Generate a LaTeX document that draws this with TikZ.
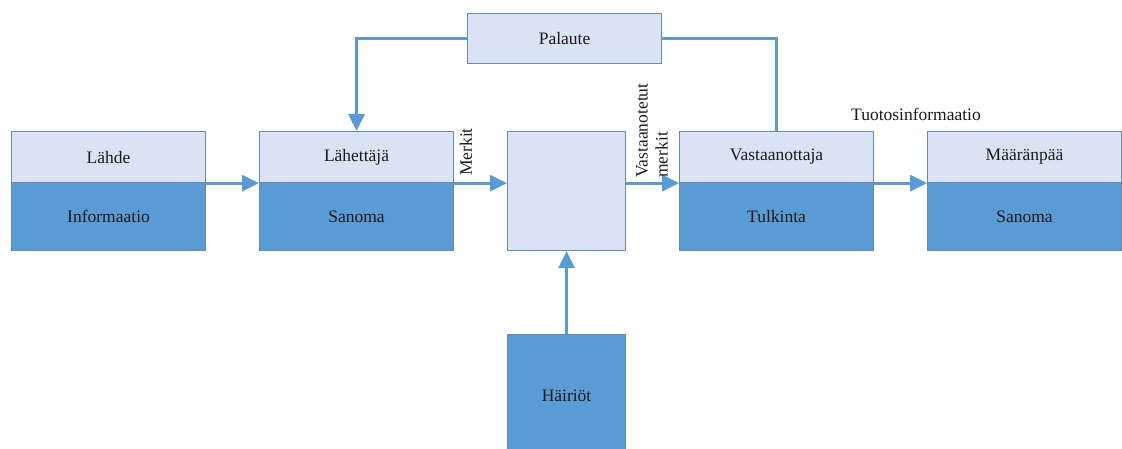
\documentclass[tikz,border=0pt]{standalone}
\usepackage{fontspec}
\setmainfont{Liberation Serif}
\usetikzlibrary{arrows.meta}
\definecolor{lightfill}{HTML}{DAE3F3}
\definecolor{darkfill}{HTML}{5B9BD5}
\definecolor{edgeblue}{HTML}{6A89AD}
\definecolor{flowblue}{HTML}{5B9BD5}
\definecolor{ink}{HTML}{1A1A1A}

\begin{document}
\begin{tikzpicture}[x=1pt,y=-1pt,
  labeltext/.style={font=\fontsize{17.5}{20}\selectfont, text=ink},
  part/.style={labeltext, draw=edgeblue, line width=1.1pt, inner sep=0pt, anchor=north west},
  toppart/.style={part, fill=lightfill, minimum width=194pt, minimum height=51pt},
  botpart/.style={part, fill=darkfill, minimum width=194pt, minimum height=68pt},
  flowline/.style={draw=flowblue, line width=3.2pt, -{Triangle[length=17pt,width=16pt]}},
  plainline/.style={draw=flowblue, line width=3.2pt}]

\useasboundingbox (0,0) rectangle (1122,448);

% two-part boxes: upper title band and lower content band
\node[toppart] (lahdeT) at (11,131) {Lähde};
\node[botpart] (lahdeB) at (11,182) {Informaatio};

\node[toppart] (lahT) at (259,131) {Lähettäjä};
\node[botpart] (lahB) at (259,182) {Sanoma};

\node[toppart] (vasT) at (679,131) {Vastaanottaja};
\node[botpart] (vasB) at (679,182) {Tulkinta};

\node[toppart] (maaT) at (927,131) {Määränpää};
\node[botpart] (maaB) at (927,182) {Sanoma};

% channel and noise source
\node[part, fill=lightfill, minimum width=118pt, minimum height=119pt] (kanava) at (507,131) {};
\node[part, fill=darkfill, minimum width=118pt, minimum height=120pt] (hairiot) at (507,334) {};
\node[labeltext] at ([yshift=-3pt]hairiot.center |- 0,393) {Häiriöt};

% feedback box
\node[part, fill=lightfill, minimum width=194pt, minimum height=50pt] (palaute) at (467,13) {Palaute};

% main flow
\draw[flowline] (lahdeT.south east) -- (lahT.south west);
\draw[flowline] (lahT.south east) -- (kanava.west |- lahT.south east);
\draw[flowline] (kanava.east |- vasT.south west) -- (vasT.south west);
\draw[flowline] (vasT.south east) -- (maaT.south west);
\draw[flowline] (hairiot.north) -- (kanava.south);

% feedback loop
\draw[flowline] (palaute.west) -| (lahT.north);
\draw[plainline] (palaute.east) -| (vasT.north);

% connector labels
\node[labeltext, rotate=90] (merkit) at (466,152) {Merkit};
\node[labeltext, rotate=90, align=left, anchor=west, inner sep=0pt] (vastmerkit) at (652,178) {Vastaanotetut\\merkit};
\node[labeltext] (tuotos) at (916,114) {Tuotosinformaatio};
\end{tikzpicture}
\end{document}
